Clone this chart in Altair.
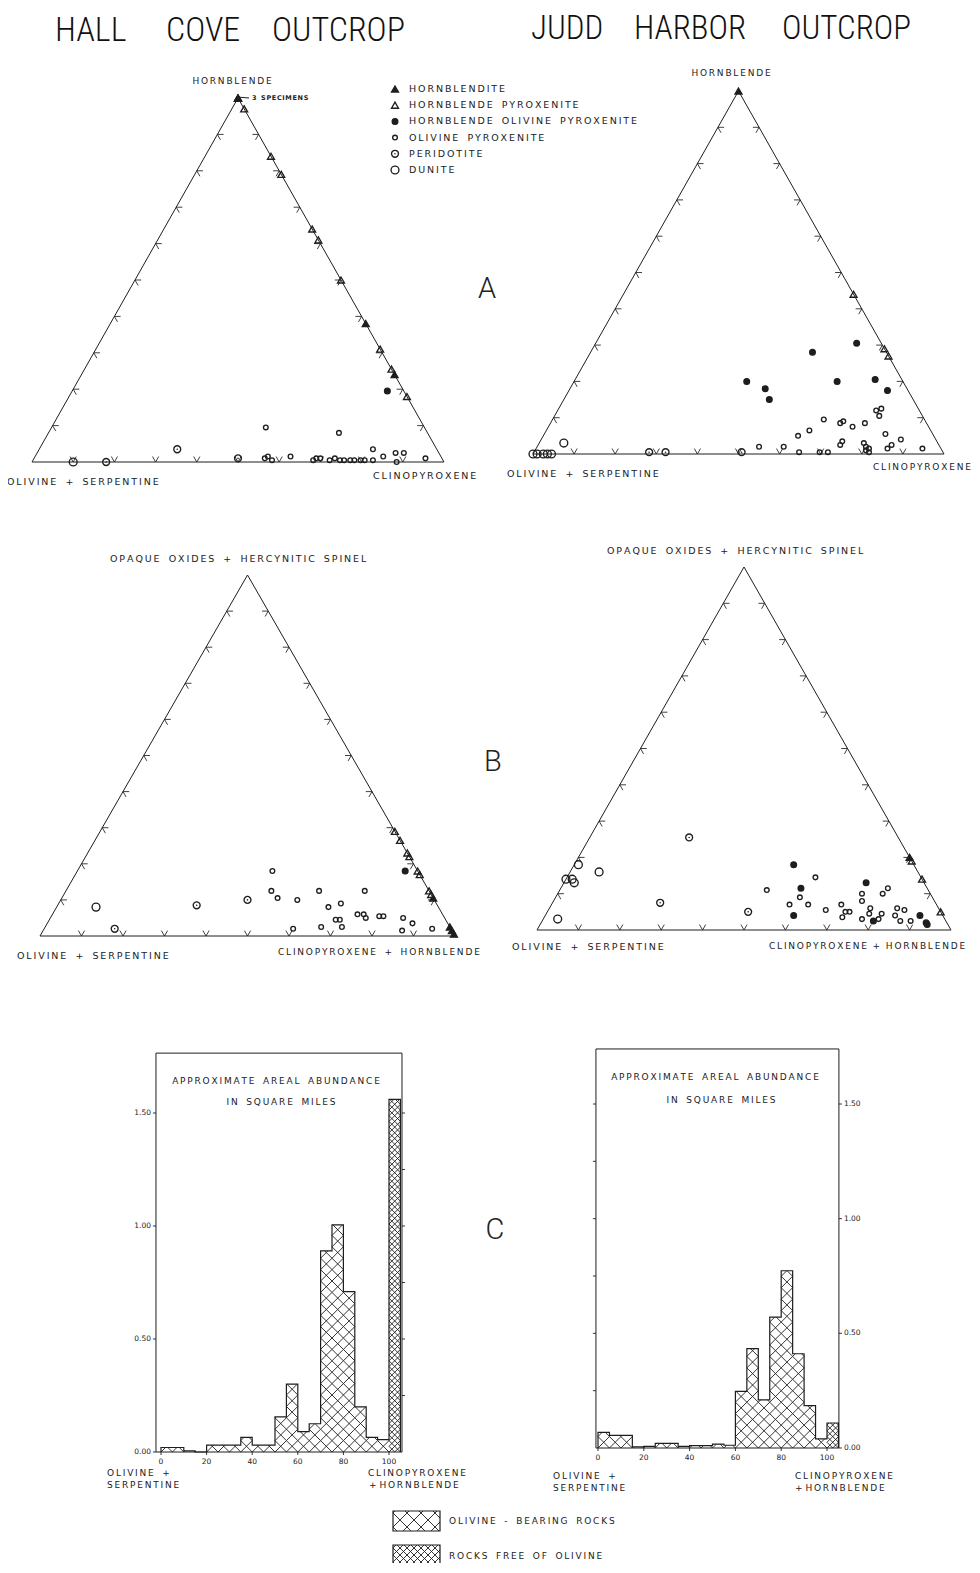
import json
import math
import altair as alt
import pandas as pd

M = 8
W, H = 964, 1555
INK = "#1e1e1e"
TXT = "#222222"
FONT = "DejaVu Sans"
THIN = "\u2009"
NBSP = "\u00a0"

# ----------------------------- data -----------------------------
ROCK_CODES = ["HD", "HP", "HOP", "OP", "PE", "DU"]
ROCK_NAMES = ["HORNBLENDITE", "HORNBLENDE PYROXENITE", "HORNBLENDE OLIVINE PYROXENITE",
              "OLIVINE PYROXENITE", "PERIDOTITE", "DUNITE"]

# A - Hall Cove: hornblende %, clinopyroxene % (remainder olivine + serpentine)
hc_a_top = [100, 100, 100, 38, 24,
            97, 84, 79, 64, 61, 50, 31, 25.5, 18,
            19.5,
            9.5, 1, 1.5, 0.5, 1.5, 0.5, 1, 1, 0.5, 1, 0.5, 0.5, 0.5, 0.5, 0.5, 0.5, 0.5, 8, 3.5, 1.5, 2.5, 2.5, 0, 1,
            0, 3.5, 1,
            0]
hc_a_right = [0, 0, 0, 62, 76,
              3, 16, 21, 36, 39, 50, 69, 74.5, 82,
              76.5,
              52, 56, 56.5, 58, 62, 68, 68.5, 69.5, 72, 73, 74.5, 75.5, 77, 78, 79.5, 80.5, 82.5, 70.5, 81, 84.5, 87, 89, 88.5, 95,
              18, 33.5, 49.5,
              10]
hc_a_rock = ["HD"] * 5 + ["HP"] * 9 + ["HOP"] + ["OP"] * 24 + ["PE"] * 3 + ["DU"]

# A - Judd Harbor
jh_a_top = [100,
            44, 29, 27,
            28, 30.5, 20, 18, 15, 20, 20.5, 17.5,
            9.5, 8.5, 9, 7.5, 8.5, 12, 12.5, 10.5, 5, 6.5, 3.5, 2.5, 3, 2, 1.5, 0.5, 1, 5.5, 2.5, 1.5, 4, 1.5, 2, 2, 0.5, 0.5, 0.5,
            0.5, 0.5, 0.5,
            3, 0, 0, 0, 0, 0]
jh_a_right = [0,
              56, 71, 73,
              54, 63.5, 42, 47.5, 50, 64, 73, 77.5,
              66, 70.5, 71, 74, 76.5, 77.5, 78.5, 79, 62, 64, 73.5, 73.5, 79, 80, 81, 81.5, 80.5, 83, 86, 85.5, 87.5, 94, 54, 60, 64.5, 69.5, 71.5,
              50.5, 28, 32,
              6, 0, 1, 2.5, 3.5, 4.5]
jh_a_rock = ["HD"] + ["HP"] * 3 + ["HOP"] * 8 + ["OP"] * 27 + ["PE"] * 3 + ["DU"] * 6

# B - Hall Cove: opaque oxides + hercynitic spinel %, clinopyroxene + hornblende %
hc_b_top = [29, 26.5, 23, 22, 18, 17, 12.5, 11.5,
            10.5, 2.5, 1.5, 0.5,
            18,
            18, 12.5, 10.5, 10, 12.5, 8, 9, 4.5, 4.5, 2.5, 6, 6, 5, 12.5, 5.5, 5.5, 5, 3.5, 1.5, 2, 2, 2.5,
            2, 8.5, 10,
            8]
hc_b_right = [71, 73.5, 77, 78, 82, 83, 87.5, 88.5,
              89.5, 97.5, 98.5, 99.5,
              79,
              47, 49.5, 52, 57, 61, 65.5, 68, 69, 70, 71.5, 73.5, 75, 76, 72, 79, 80, 85, 88, 86.5, 93.5, 60, 66.5,
              17, 33.5, 45,
              9.5]
hc_b_rock = ["HP"] * 8 + ["HD"] * 4 + ["HOP"] + ["OP"] * 22 + ["PE"] * 3 + ["DU"]

# B - Judd Harbor
jh_b_top = [25.5, 7.5, 5,
            18, 14, 14, 13, 16, 3,
            18, 11.5, 4, 13, 2.5, 4, 2, 1.5,
            20,
            19, 14, 5,
            14.5, 11, 7, 9, 7, 5.5, 7, 5, 5, 3.5, 10, 8, 10, 11.5, 6, 4.5, 3, 3, 4.5, 6, 5.5, 4, 2.5, 2.5]
jh_b_right = [24, 26, 48.5,
              1, 0, 1.5, 2.5, 7, 3.5,
              53, 58, 60, 73, 80, 90.5, 93, 93.5,
              80,
              81, 86, 95,
              60, 50, 57.5, 59, 62, 67, 70, 72, 73, 72, 73.5, 74.5, 78.5, 79, 77.5, 78, 77, 81, 81, 84, 86, 84.5, 86.5, 89]
jh_b_rock = ["PE"] * 3 + ["DU"] * 6 + ["HOP"] * 8 + ["HD"] + ["HP"] * 3 + ["OP"] * 24

# C - areal abundance (square miles) per 5 % class of clinopyroxene + hornblende
HIST_BIN_START = [0, 5, 10, 15, 20, 25, 30, 35, 40, 45, 50, 55, 60, 65, 70, 75, 80, 85, 90, 95, 100]
hc_area = [0.02, 0.02, 0.005, 0.0, 0.03, 0.03, 0.03, 0.065, 0.03, 0.03, 0.155, 0.30,
           0.09, 0.125, 0.89, 1.005, 0.71, 0.20, 0.065, 0.055, 1.56]
jh_area = [0.068, 0.055, 0.055, 0.005, 0.007, 0.02, 0.02, 0.007, 0.01, 0.01, 0.017, 0.012,
           0.247, 0.433, 0.21, 0.571, 0.773, 0.411, 0.185, 0.04, 0.109]

TERN_TICKS = [10, 20, 30, 40, 50, 60, 70, 80, 90]
HIST_X_TICKS = [0, 20, 40, 60, 80, 100]
HIST_Y_MAJOR = [0.0, 0.5, 1.0, 1.5]
HIST_Y_MINOR = [0.25, 0.5, 0.75, 1.0, 1.25, 1.5]

# ----------------------------- layout (page px) -----------------------------
TERN_GEOM = {  # x of left corner, x of right corner, y of base, y of apex
    "A_HC": (32, 444, 462, 98),
    "A_JH": (533, 944, 454, 91),
    "B_HC": (40, 455, 936, 575),
    "B_JH": (537, 951, 930, 567),
}
HIST_GEOM = {
    "HC": dict(x0=161, x100=389, y0=1452, y150=1113, fl=-2.2, fr=105.7, ft=1.765, side="left"),
    "JH": dict(x0=598, x100=827, y0=1448, y150=1104, fl=-0.9, fr=105.2, ft=1.74, side="right"),
}

SHAPES = {"HD": "triangle-up", "HP": "triangle-up", "HOP": "circle", "OP": "circle", "PE": "circle", "DU": "circle"}
FILLS = {"HD": INK, "HP": "transparent", "HOP": INK, "OP": "transparent", "PE": "transparent", "DU": "transparent"}
SIZES = {"HD": 48, "HP": 48, "HOP": 32, "OP": 22, "PE": 48, "DU": 62}


def lookup(d, default):
    expr = json.dumps(default)
    for k, v in d.items():
        expr = f"datum.rock === {json.dumps(k)} ? {json.dumps(v)} : ({expr})"
    return expr


STYLE = dict(shp=lookup(SHAPES, "circle"), fil=lookup(FILLS, "transparent"), sz=lookup(SIZES, 20))


def spaced(s, gap=THIN, word=NBSP * 3):
    return word.join(gap.join(w) for w in s.split(" "))


ONE = pd.DataFrame({"k": [0]})


def label(text, x, y, size=9.5, align="left", baseline="middle", font=FONT, weight="normal", color=TXT):
    return alt.Chart(ONE).mark_text(text=text, align=align, baseline=baseline, fontSize=size,
                                    font=font, fontWeight=weight, color=color).encode(
        x=alt.value(x - M), y=alt.value(y - M))


def lin(domain, rng):
    return alt.Scale(domain=domain, range=rng, nice=False, zero=False)


def tern_tick_frame():
    L = 1.5
    rows = []
    for t in TERN_TICKS:
        for dx, dy in [(1, 0), (0.5, -1)]:
            rows.append((t / 2, t, t / 2 + L * dx, t + L * dy))
        for dx, dy in [(-0.5, 1), (0.5, 1)]:
            rows.append((t, 0, t + L * dx, L * dy))
        for dx, dy in [(-1, 0), (-0.5, -1)]:
            rows.append((100 - t / 2, t, 100 - t / 2 + L * dx, t + L * dy))
    return pd.DataFrame(rows, columns=["x", "y", "x2", "y2"])


def ternary(top, right, rock, geom):
    x0, x1, yb, yt = geom
    sx = lin([0, 100], [x0 - M, x1 - M])
    sy = lin([0, 100], [yb - M, yt - M])

    def X(f):
        return alt.X(f, type="quantitative", scale=sx, axis=None)

    def Y(f):
        return alt.Y(f, type="quantitative", scale=sy, axis=None)

    corners = pd.DataFrame({"top": [0, 0, 100, 0], "right": [0, 100, 0, 0], "i": [0, 1, 2, 3]})
    outline = alt.Chart(corners).transform_calculate(X="datum.right + datum.top / 2").mark_line(
        color=INK, strokeWidth=1.0).encode(x=X("X"), y=Y("top"), order="i:Q")
    ticks = alt.Chart(tern_tick_frame()).mark_rule(color=INK, strokeWidth=0.85).encode(
        x=X("x"), y=Y("y"), x2="x2", y2="y2")
    df = pd.DataFrame({"top": top, "right": right, "rock": rock})
    base = alt.Chart(df).transform_calculate(X="datum.right + datum.top / 2", **STYLE)
    pts = base.mark_point(filled=True, strokeWidth=1.35, opacity=1).encode(
        x=X("X"), y=Y("top"),
        shape=alt.Shape("shp:N", scale=None), fill=alt.Fill("fil:N", scale=None),
        size=alt.Size("sz:Q", scale=None), stroke=alt.value(INK))
    dots = base.transform_filter("datum.rock === 'PE'").mark_circle(size=2.5, color=INK, opacity=1).encode(
        x=X("X"), y=Y("top"))
    return [outline, ticks, pts, dots]


def hatch(X0, X1, Y0, Y1, S):
    segs = []
    if Y1 - Y0 < 0.3 or X1 - X0 <= 0:
        return segs
    kmin = math.floor(min(X0 - Y1, X0 + Y0) / S) - 1
    kmax = math.ceil(max(X1 - Y0, X1 + Y1) / S) + 1
    for k in range(kmin, kmax + 1):
        c = k * S
        a, b = max(X0, Y0 + c), min(X1, Y1 + c)
        if b - a > 1e-6:
            segs.append((a, a - c, b, b - c))
        a, b = max(X0, c - Y1), min(X1, c - Y0)
        if b - a > 1e-6:
            segs.append((a, c - a, b, c - b))
    return segs


def histogram(area, g):
    sx = lin([0, 100], [g["x0"] - M, g["x100"] - M])
    sy = lin([0, 1.5], [g["y0"] - M, g["y150"] - M])
    pxx = (g["x100"] - g["x0"]) / 100.0
    pxy = (g["y0"] - g["y150"]) / 1.5
    S = 5 * pxx

    def X(f):
        return alt.X(f, type="quantitative", scale=sx, axis=None)

    def Y(f):
        return alt.Y(f, type="quantitative", scale=sy, axis=None)

    def XD(v):
        return alt.XDatum(v, type="quantitative", scale=sx, axis=None)

    def YD(v):
        return alt.YDatum(v, type="quantitative", scale=sy, axis=None)

    segs = []
    for b, h in zip(HIST_BIN_START, area):
        spacing = S / 2 if b >= 100 else S
        for xa, ya, xb, yb in hatch(b * pxx, (b + 5) * pxx, 0, h * pxy, spacing):
            segs.append((xa / pxx, ya / pxy, xb / pxx, yb / pxy))
    hdf = pd.DataFrame(segs, columns=["x", "y", "x2", "y2"])
    hatch_l = alt.Chart(hdf).mark_rule(color=INK, strokeWidth=0.9).encode(
        x=X("x"), y=Y("y"), x2="x2", y2="y2")

    xs = [0] + HIST_BIN_START + [HIST_BIN_START[-1] + 5]
    ys = [0] + list(area) + [0]
    sdf = pd.DataFrame({"x": xs, "y": ys, "i": list(range(len(xs)))})
    step = alt.Chart(sdf).mark_line(color=INK, strokeWidth=1.2, interpolate="step-after").encode(
        x=X("x"), y=Y("y"), order="i:Q")

    frame = alt.Chart(ONE).mark_rect(filled=False, stroke=INK, strokeWidth=1.0).encode(
        x=XD(g["fl"]), x2=alt.X2Datum(g["fr"]), y=YD(0), y2=alt.Y2Datum(g["ft"]))

    tl = 3.0 / pxx
    if g["side"] == "left":
        maj_x, maj_x2, lab_x, lab_align = g["fl"], g["fl"] - tl, g["fl"] - 5 / pxx, "right"
        min_x, min_x2 = g["fr"], g["fr"] + tl
    else:
        maj_x, maj_x2, lab_x, lab_align = g["fr"], g["fr"] + tl, g["fr"] + 5 / pxx, "left"
        min_x, min_x2 = g["fl"], g["fl"] - tl
    maj = pd.DataFrame({"v": HIST_Y_MAJOR})
    mnr = pd.DataFrame({"v": HIST_Y_MINOR})
    maj_ticks = alt.Chart(maj).mark_rule(color=INK, strokeWidth=0.9).encode(
        y=Y("v"), x=XD(maj_x), x2=alt.X2Datum(maj_x2))
    maj_labels = alt.Chart(maj).mark_text(align=lab_align, baseline="middle", fontSize=7.5, font=FONT,
                                          color=TXT).encode(
        y=Y("v"), x=XD(lab_x), text=alt.Text("v:Q", format=".2f"))
    min_ticks = alt.Chart(mnr).mark_rule(color=INK, strokeWidth=0.9).encode(
        y=Y("v"), x=XD(min_x), x2=alt.X2Datum(min_x2))
    xt = pd.DataFrame({"v": HIST_X_TICKS})
    x_ticks = alt.Chart(xt).mark_rule(color=INK, strokeWidth=0.9).encode(
        x=X("v"), y=YD(0), y2=alt.Y2Datum(-3.0 / pxy))
    x_labels = alt.Chart(xt).mark_text(align="center", baseline="middle", fontSize=7.5, font=FONT,
                                       color=TXT).encode(
        x=X("v"), y=YD(-10.0 / pxy), text=alt.Text("v:Q", format="d"))
    return [hatch_l, step, frame, maj_ticks, maj_labels, min_ticks, x_ticks, x_labels]


layers = []

# ---- titles ----
TITLE_FONT = "Roboto Condensed, Liberation Sans Narrow, DejaVu Sans Condensed, sans-serif"
for word, x, y, sz in [("HALL", 55, 41, 34), ("COVE", 166, 41, 34), ("OUTCROP", 272, 41, 34),
                       ("JUDD", 531, 39, 33), ("HARBOR", 634, 39, 33), ("OUTCROP", 782, 39, 33)]:
    layers.append(label(word, x, y, size=sz, baseline="alphabetic", font=TITLE_FONT, weight=300, color="#111111"))

# ---- ternary panels ----
layers += ternary(hc_a_top, hc_a_right, hc_a_rock, TERN_GEOM["A_HC"])
layers += ternary(jh_a_top, jh_a_right, jh_a_rock, TERN_GEOM["A_JH"])
layers += ternary(hc_b_top, hc_b_right, hc_b_rock, TERN_GEOM["B_HC"])
layers += ternary(jh_b_top, jh_b_right, jh_b_rock, TERN_GEOM["B_JH"])

# ternary corner labels
layers += [
    label(spaced("HORNBLENDE"), 232, 81, align="center", size=9),
    label(spaced("OLIVINE + SERPENTINE"), 7, 482),
    label(spaced("CLINOPYROXENE"), 373, 476),
    label(spaced("HORNBLENDE"), 731, 73, align="center", size=9),
    label(spaced("OLIVINE + SERPENTINE"), 507, 474),
    label(spaced("CLINOPYROXENE"), 873, 467, size=9),
    label(spaced("OPAQUE OXIDES + HERCYNITIC SPINEL"), 110, 559, size=9.5),
    label(spaced("OLIVINE + SERPENTINE"), 17, 956),
    label(spaced("CLINOPYROXENE + HORNBLENDE"), 278, 952, size=9),
    label(spaced("OPAQUE OXIDES + HERCYNITIC SPINEL"), 607, 551, size=9.5),
    label(spaced("OLIVINE + SERPENTINE"), 512, 947),
    label(spaced("CLINOPYROXENE + HORNBLENDE", word=NBSP * 2), 769, 946, size=9),
]

# "3 specimens" note
layers.append(alt.Chart(ONE).mark_rule(color=INK, strokeWidth=1).encode(
    x=alt.value(237 - M), x2=alt.value(249 - M), y=alt.value(97 - M), y2=alt.value(98 - M)))
layers.append(label(spaced("3 SPECIMENS", gap="\u200a", word=NBSP * 2), 252, 98, size=6.5, weight="bold"))

# symbol legend (panel A)
leg = pd.DataFrame({"rock": ROCK_CODES, "name": [spaced(n) for n in ROCK_NAMES], "row": list(range(6))})
ly = lin([0, 5], [89 - M, 170 - M])
leg_base = alt.Chart(leg).transform_calculate(**STYLE)
layers.append(leg_base.mark_point(filled=True, strokeWidth=1.35, opacity=1).encode(
    x=alt.value(395 - M), y=alt.Y("row:Q", scale=ly, axis=None),
    shape=alt.Shape("shp:N", scale=None), fill=alt.Fill("fil:N", scale=None),
    size=alt.Size("sz:Q", scale=None), stroke=alt.value(INK)))
layers.append(leg_base.transform_filter("datum.rock === 'PE'").mark_circle(size=2.5, color=INK, opacity=1).encode(
    x=alt.value(395 - M), y=alt.Y("row:Q", scale=ly, axis=None)))
layers.append(alt.Chart(leg).mark_text(align="left", baseline="middle", fontSize=9.5, font=FONT, color=TXT).encode(
    x=alt.value(409 - M), y=alt.Y("row:Q", scale=ly, axis=None), text="name:N"))

# big panel letters
for letter, x, y in [("A", 487, 298), ("B", 493, 771), ("C", 495, 1239)]:
    layers.append(label(letter, x, y, size=29, align="center", baseline="alphabetic",
                        font="Roboto, Liberation Sans, sans-serif", weight=300, color="#222222"))

# ---- histograms ----
layers += histogram(hc_area, HIST_GEOM["HC"])
layers += histogram(jh_area, HIST_GEOM["JH"])
layers += [
    label(spaced("APPROXIMATE AREAL ABUNDANCE"), 276, 1081, size=9, align="center"),
    label(spaced("IN SQUARE MILES"), 281, 1102, size=9, align="center"),
    label(spaced("APPROXIMATE AREAL ABUNDANCE"), 715, 1077, size=9, align="center"),
    label(spaced("IN SQUARE MILES"), 721, 1100, size=9, align="center"),
    label(spaced("OLIVINE +"), 107, 1473, size=9),
    label(spaced("SERPENTINE"), 107, 1485, size=9),
    label(spaced("CLINOPYROXENE"), 368, 1473, size=9),
    label(spaced("+ HORNBLENDE", word=NBSP), 369, 1485, size=9),
    label(spaced("OLIVINE +"), 553, 1476, size=9),
    label(spaced("SERPENTINE"), 553, 1488, size=9),
    label(spaced("CLINOPYROXENE"), 795, 1476, size=9),
    label(spaced("+ HORNBLENDE", word=NBSP), 795, 1488, size=9),
]

# ---- hatch legend ----
psx = lin([0, W], [0, W])
psy = lin([0, H], [0, H])
for (x0, x1, y0, y1, S, text) in [(393, 440, 1511, 1531, 14.0, "OLIVINE - BEARING ROCKS"),
                                   (393, 440, 1545, 1566, 7.0, "ROCKS FREE OF OLIVINE")]:
    segs = hatch(x0 - M, x1 - M, y0 - M, y1 - M, S)
    sdf = pd.DataFrame(segs, columns=["x", "y", "x2", "y2"])
    layers.append(alt.Chart(sdf).mark_rule(color=INK, strokeWidth=0.9).encode(
        x=alt.X("x:Q", scale=psx, axis=None), y=alt.Y("y:Q", scale=psy, axis=None), x2="x2", y2="y2"))
    layers.append(alt.Chart(ONE).mark_rect(filled=False, stroke=INK, strokeWidth=1.2).encode(
        x=alt.value(x0 - M), x2=alt.value(x1 - M), y=alt.value(y0 - M), y2=alt.value(y1 - M)))
    layers.append(label(spaced(text, word=NBSP * 3), 449, (y0 + y1) / 2, size=9))

chart = alt.layer(*layers).resolve_scale(
    x="independent", y="independent"
).properties(
    width=W, height=H, padding=0, autosize="none", background="white"
).configure_view(stroke=None)

chart.save("out.html", embed_options={"renderer": "svg", "actions": False})
